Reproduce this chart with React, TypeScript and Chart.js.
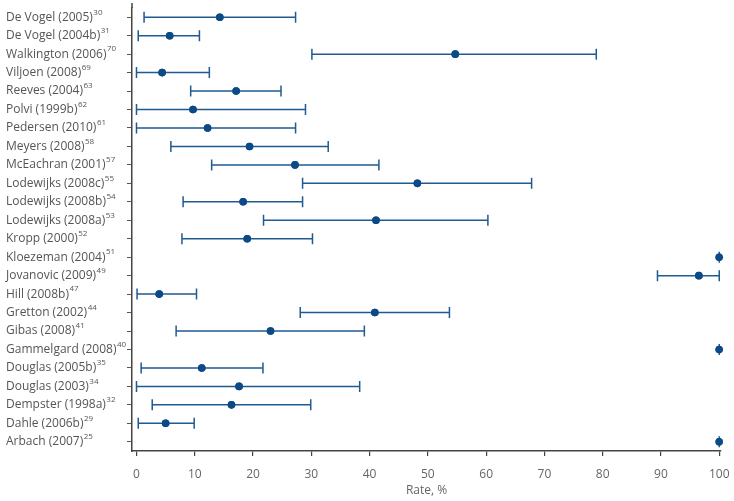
import React, { useEffect, useRef } from "react";
import { Chart, registerables } from "chart.js";

Chart.register(...registerables);

const studies = [
  "De Vogel (2005)", "De Vogel (2004b)", "Walkington (2006)", "Viljoen (2008)",
  "Reeves (2004)", "Polvi (1999b)", "Pedersen (2010)", "Meyers (2008)",
  "McEachran (2001)", "Lodewijks (2008c)", "Lodewijks (2008b)", "Lodewijks (2008a)",
  "Kropp (2000)", "Kloezeman (2004)", "Jovanovic (2009)", "Hill (2008b)",
  "Gretton (2002)", "Gibas (2008)", "Gammelgard (2008)", "Douglas (2005b)",
  "Douglas (2003)", "Dempster (1998a)", "Dahle (2006b)", "Arbach (2007)",
];
const refs = ["30", "31", "70", "69", "63", "62", "61", "58", "57", "55", "54", "53", "52", "51", "49", "47", "44", "41", "40", "35", "34", "32", "29", "25"];
const rates = [14.3, 5.7, 54.7, 4.4, 17.1, 9.7, 12.2, 19.4, 27.2, 48.2, 18.3, 41.1, 19.0, 100, 96.5, 3.9, 40.9, 23.0, 100, 11.2, 17.6, 16.3, 5.0, 100];
const lower = [1.3, 0.3, 30.1, 0.0, 9.3, 0.0, 0.0, 5.9, 12.9, 28.5, 8.0, 21.8, 7.8, 100, 89.4, 0.1, 28.1, 6.8, 100, 0.8, 0.0, 2.7, 0.3, 100];
const upper = [27.3, 10.8, 78.9, 12.5, 24.8, 29.0, 27.3, 32.9, 41.6, 67.8, 28.5, 60.3, 30.2, 100, 100, 10.3, 53.7, 39.1, 100, 21.7, 38.3, 29.9, 9.9, 100];
const xTicks = [0, 10, 20, 30, 40, 50, 60, 70, 80, 90, 100];

const FONT = "'Open Sans', 'DejaVu Sans', sans-serif";
const LINE = "#1f5a91";
const DOT = "#0b4a87";

const errorBars = {
  id: "errorBars",
  afterDatasetsDraw(chart: any) {
    const { ctx, scales } = chart;
    const xs = scales.x;
    const ys = scales.y;
    ctx.save();
    ctx.strokeStyle = LINE;
    ctx.lineWidth = 1.5;
    for (let i = 0; i < studies.length; i++) {
      const y = ys.getPixelForValue(i);
      const x0 = xs.getPixelForValue(lower[i]);
      const x1 = xs.getPixelForValue(upper[i]);
      ctx.beginPath();
      ctx.moveTo(x0, y);
      ctx.lineTo(x1, y);
      ctx.moveTo(x0, y - 5.5);
      ctx.lineTo(x0, y + 5.5);
      ctx.moveTo(x1, y - 5.5);
      ctx.lineTo(x1, y + 5.5);
      ctx.stroke();
    }
    ctx.restore();
    const meta = chart.getDatasetMeta(0);
    meta.data.forEach((el: any) => el.draw(ctx));
  },
};

const studyLabels = {
  id: "studyLabels",
  afterDraw(chart: any) {
    const { ctx, scales, chartArea } = chart;
    const ys = scales.y;
    ctx.save();
    ctx.strokeStyle = "#444";
    ctx.lineWidth = 1.5;
    ctx.beginPath();
    ctx.moveTo(chartArea.left, chartArea.top);
    ctx.lineTo(chartArea.left, chartArea.top - 5);
    ctx.stroke();
    ctx.fillStyle = "#555";
    ctx.textBaseline = "middle";
    ctx.textAlign = "left";
    for (let i = 0; i < studies.length; i++) {
      const y = ys.getPixelForValue(i);
      ctx.font = `12px ${FONT}`;
      ctx.fillText(studies[i], 6, y);
      const w = ctx.measureText(studies[i]).width;
      ctx.font = `8px ${FONT}`;
      ctx.fillText(refs[i], 6 + w + 0.5, y - 5);
    }
    ctx.restore();
  },
};

export default function App() {
  const ref = useRef<HTMLCanvasElement | null>(null);
  useEffect(() => {
    document.body.style.margin = "0";
    const chart = new Chart(ref.current!, {
      type: "line",
      data: {
        labels: studies,
        datasets: [
          {
            data: rates,
            showLine: false,
            pointRadius: 3.8,
            pointHoverRadius: 3.8,
            pointBackgroundColor: DOT,
            pointBorderColor: DOT,
            pointBorderWidth: 0,
          },
        ],
      },
      options: {
        indexAxis: "y",
        animation: false,
        responsive: false,
        layout: { padding: { top: 8, right: 13, bottom: 0, left: 0 } },
        plugins: { legend: { display: false }, tooltip: { enabled: false } },
        scales: {
          y: {
            type: "category",
            offset: true,
            ticks: { display: false },
            grid: { display: true, drawOnChartArea: false, drawTicks: true, tickLength: 5, color: "#555", lineWidth: 1 },
            border: { display: true, color: "#444", width: 1.5 },
            afterFit: (s: any) => { s.width = 132; s.paddingTop = 0; s.paddingBottom = 0; },
          },
          x: {
            type: "linear",
            min: -0.77,
            max: 100.3,
            afterBuildTicks: (s: any) => { s.ticks = xTicks.map((v) => ({ value: v })); },
            ticks: { color: "#666", font: { family: FONT, size: 12 }, padding: 11, autoSkip: false, maxRotation: 0 },
            grid: { display: true, drawOnChartArea: false, drawTicks: true, tickLength: 5, color: "#444", lineWidth: 1.2 },
            border: { display: true, color: "#444", width: 1.5 },
            title: { display: true, text: "Rate, %", color: "#666", font: { family: FONT, size: 12 }, padding: { top: 0, bottom: 3 } },
            afterFit: (s: any) => { s.height = 50; s.paddingLeft = 0; s.paddingRight = 0; },
          },
        },
      },
      plugins: [errorBars, studyLabels],
    });
    return () => chart.destroy();
  }, []);
  return <canvas ref={ref} width={734} height={501} style={{ display: "block" }} />;
}
